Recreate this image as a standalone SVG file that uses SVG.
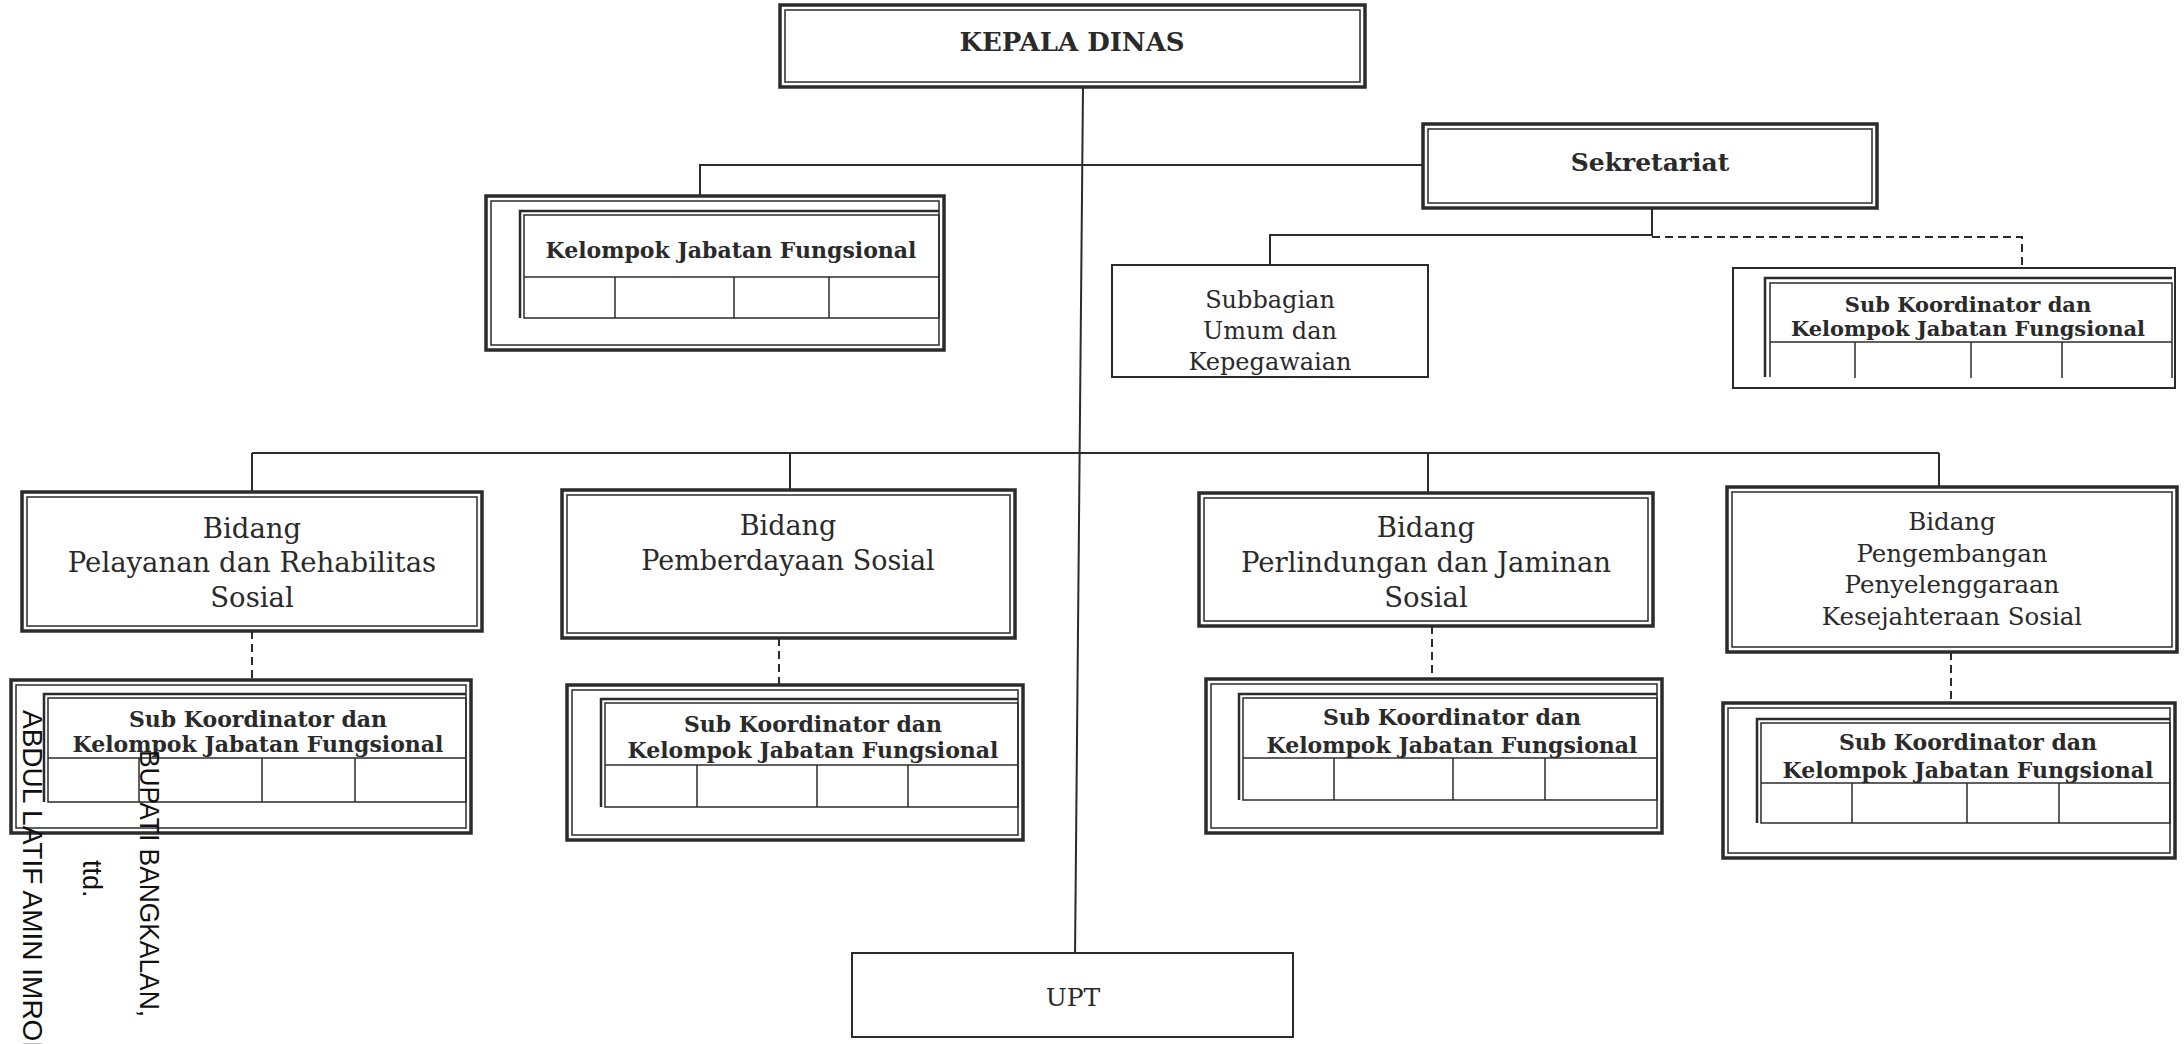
<svg xmlns="http://www.w3.org/2000/svg" width="2184" height="1044" viewBox="0 0 2184 1044">
<style>
  .o{fill:none;stroke:#2b2b2b;stroke-width:3.5}
  .i{fill:none;stroke:#2b2b2b;stroke-width:1.5}
  .t2{fill:none;stroke:#2b2b2b;stroke-width:2.5}
  .s{fill:#fff;stroke:#2b2b2b;stroke-width:2}
  .ln{fill:none;stroke:#2b2b2b;stroke-width:2}
  .dash{fill:none;stroke:#2b2b2b;stroke-width:2;stroke-dasharray:8 5}
  .tb{font-family:"DejaVu Serif","Liberation Serif",serif;font-weight:bold;fill:#2a2a2a;text-anchor:middle}
  .tr{font-family:"DejaVu Serif","Liberation Serif",serif;fill:#2a2a2a;text-anchor:middle}
  .rot{font-family:"Liberation Sans",Arial,sans-serif;fill:#111}
  .sk{font-size:22px}
</style>
<rect width="2184" height="1044" fill="#fff"/>

<g id="connectors">
  <line class="ln" x1="1083" y1="87" x2="1075" y2="957"/>
  <polyline class="ln" points="700,196 700,165 1423,165"/>
  <polyline class="ln" points="1652,208 1652,235 1270,235 1270,265"/>
  <polyline class="dash" points="1652,237 2022,237 2022,268"/>
  <line class="ln" x1="252" y1="453" x2="1939" y2="453"/>
  <line class="ln" x1="252" y1="453" x2="252" y2="492"/>
  <line class="ln" x1="790" y1="453" x2="790" y2="490"/>
  <line class="ln" x1="1428" y1="453" x2="1428" y2="493"/>
  <line class="ln" x1="1939" y1="453" x2="1939" y2="487"/>
  <line class="dash" x1="252" y1="631" x2="252" y2="680"/>
  <line class="dash" x1="779" y1="638" x2="779" y2="685"/>
  <line class="dash" x1="1432" y1="626" x2="1432" y2="679"/>
  <line class="dash" x1="1951" y1="652" x2="1951" y2="703"/>
</g>

<g id="kepala-dinas">
  <rect class="o" x="780" y="5" width="585" height="82"/>
  <rect class="i" x="785" y="10" width="575" height="72"/>
  <text class="tb" x="1072" y="51" font-size="26">KEPALA DINAS</text>
</g>

<g id="sekretariat">
  <rect class="o" x="1423" y="124" width="454" height="84"/>
  <rect class="i" x="1428" y="129" width="444" height="74"/>
  <text class="tb" x="1650" y="171" font-size="25">Sekretariat</text>
</g>

<g id="kelompok-jabatan-fungsional">
  <rect class="o" x="486" y="196" width="458" height="154"/>
  <rect class="i" x="491" y="201" width="448" height="144"/>
  <rect class="i" x="524" y="215" width="415" height="103"/>
  <polyline class="t2" points="520,318 520,211 939,211"/>
  <line class="i" x1="524" y1="277" x2="939" y2="277"/>
  <line class="i" x1="615" y1="277" x2="615" y2="318"/>
  <line class="i" x1="734" y1="277" x2="734" y2="318"/>
  <line class="i" x1="829" y1="277" x2="829" y2="318"/>
  <text class="tb sk" x="731" y="258">Kelompok Jabatan Fungsional</text>
</g>

<g id="subbagian">
  <rect class="s" x="1112" y="265" width="316" height="112"/>
  <text class="tr" x="1270" y="308" font-size="24">Subbagian</text>
  <text class="tr" x="1270" y="339" font-size="24">Umum dan</text>
  <text class="tr" x="1270" y="370" font-size="24">Kepegawaian</text>
</g>

<g id="sk-sekretariat">
  <rect class="s" x="1733" y="268" width="442" height="120"/>
  <polyline class="t2" points="1765,377 1765,278 2172,278"/>
  <polyline class="i" points="1770,377 1770,283 2172,283 2172,378"/>
  <line class="i" x1="1770" y1="342" x2="2172" y2="342"/>
  <line class="i" x1="1855" y1="342" x2="1855" y2="378"/>
  <line class="i" x1="1971" y1="342" x2="1971" y2="378"/>
  <line class="i" x1="2062" y1="342" x2="2062" y2="378"/>
  <text class="tb" font-size="21" x="1968" y="312">Sub Koordinator dan</text>
  <text class="tb" font-size="21" x="1968" y="336">Kelompok Jabatan Fungsional</text>
</g>

<g id="bidang-pelayanan">
  <rect class="o" x="22" y="492" width="460" height="139"/>
  <rect class="i" x="27" y="497" width="450" height="129"/>
  <text class="tr" x="252" y="538" font-size="27.5">Bidang</text>
  <text class="tr" x="252" y="572" font-size="27.5">Pelayanan dan Rehabilitas</text>
  <text class="tr" x="252" y="607" font-size="27.5">Sosial</text>
</g>

<g id="bidang-pemberdayaan">
  <rect class="o" x="562" y="490" width="453" height="148"/>
  <rect class="i" x="567" y="495" width="443" height="138"/>
  <text class="tr" x="788" y="535" font-size="27">Bidang</text>
  <text class="tr" x="788" y="570" font-size="27">Pemberdayaan Sosial</text>
</g>

<g id="bidang-perlindungan">
  <rect class="o" x="1199" y="493" width="454" height="133"/>
  <rect class="i" x="1204" y="498" width="444" height="123"/>
  <text class="tr" x="1426" y="537" font-size="27.5">Bidang</text>
  <text class="tr" x="1426" y="572" font-size="27.5">Perlindungan dan Jaminan</text>
  <text class="tr" x="1426" y="607" font-size="27.5">Sosial</text>
</g>

<g id="bidang-pengembangan">
  <rect class="o" x="1727" y="487" width="450" height="165"/>
  <rect class="i" x="1732" y="492" width="440" height="155"/>
  <text class="tr" x="1952" y="530" font-size="24.5">Bidang</text>
  <text class="tr" x="1952" y="562" font-size="24.5">Pengembangan</text>
  <text class="tr" x="1952" y="593" font-size="24.5">Penyelenggaraan</text>
  <text class="tr" x="1952" y="625" font-size="24.5">Kesejahteraan Sosial</text>
</g>

<g id="sk-pelayanan">
  <rect class="o" x="11" y="680" width="460" height="153"/>
  <rect class="i" x="16" y="685" width="450" height="143"/>
  <rect class="i" x="48" y="698" width="418" height="104"/>
  <polyline class="t2" points="44,802 44,694 466,694"/>
  <line class="i" x1="48" y1="758" x2="466" y2="758"/>
  <line class="i" x1="139" y1="758" x2="139" y2="802"/>
  <line class="i" x1="262" y1="758" x2="262" y2="802"/>
  <line class="i" x1="355" y1="758" x2="355" y2="802"/>
  <text class="tb sk" x="258" y="727">Sub Koordinator dan</text>
  <text class="tb sk" x="258" y="752">Kelompok Jabatan Fungsional</text>
</g>

<g id="sk-pemberdayaan">
  <rect class="o" x="567" y="685" width="456" height="155"/>
  <rect class="i" x="572" y="690" width="446" height="145"/>
  <rect class="i" x="605" y="703" width="413" height="104"/>
  <polyline class="t2" points="601,807 601,699 1018,699"/>
  <line class="i" x1="605" y1="765" x2="1018" y2="765"/>
  <line class="i" x1="697" y1="765" x2="697" y2="807"/>
  <line class="i" x1="817" y1="765" x2="817" y2="807"/>
  <line class="i" x1="908" y1="765" x2="908" y2="807"/>
  <text class="tb sk" x="813" y="732">Sub Koordinator dan</text>
  <text class="tb sk" x="813" y="758">Kelompok Jabatan Fungsional</text>
</g>

<g id="sk-perlindungan">
  <rect class="o" x="1206" y="679" width="456" height="154"/>
  <rect class="i" x="1211" y="684" width="446" height="144"/>
  <rect class="i" x="1243" y="698" width="414" height="102"/>
  <polyline class="t2" points="1239,800 1239,694 1657,694"/>
  <line class="i" x1="1243" y1="758" x2="1657" y2="758"/>
  <line class="i" x1="1334" y1="758" x2="1334" y2="800"/>
  <line class="i" x1="1453" y1="758" x2="1453" y2="800"/>
  <line class="i" x1="1545" y1="758" x2="1545" y2="800"/>
  <text class="tb sk" x="1452" y="725">Sub Koordinator dan</text>
  <text class="tb sk" x="1452" y="753">Kelompok Jabatan Fungsional</text>
</g>

<g id="sk-pengembangan">
  <rect class="o" x="1723" y="703" width="452" height="155"/>
  <rect class="i" x="1728" y="708" width="442" height="145"/>
  <rect class="i" x="1761" y="723" width="409" height="100"/>
  <polyline class="t2" points="1757,823 1757,719 2170,719"/>
  <line class="i" x1="1761" y1="783" x2="2170" y2="783"/>
  <line class="i" x1="1852" y1="783" x2="1852" y2="823"/>
  <line class="i" x1="1967" y1="783" x2="1967" y2="823"/>
  <line class="i" x1="2059" y1="783" x2="2059" y2="823"/>
  <text class="tb sk" x="1968" y="750">Sub Koordinator dan</text>
  <text class="tb sk" x="1968" y="778">Kelompok Jabatan Fungsional</text>
</g>

<g id="upt">
  <rect class="s" x="852" y="953" width="441" height="84"/>
  <text class="tr" x="1073" y="1006" font-size="25">UPT</text>
</g>

<g id="signature">
  <text class="rot" font-size="28" transform="translate(23,710) rotate(90)">ABDUL LATIF AMIN IMRON</text>
  <text class="rot" font-size="28" textLength="267" lengthAdjust="spacingAndGlyphs" transform="translate(140,750) rotate(90)">BUPATI BANGKALAN,</text>
  <text class="rot" font-size="27" transform="translate(83,860) rotate(90)">ttd.</text>
</g>
</svg>
